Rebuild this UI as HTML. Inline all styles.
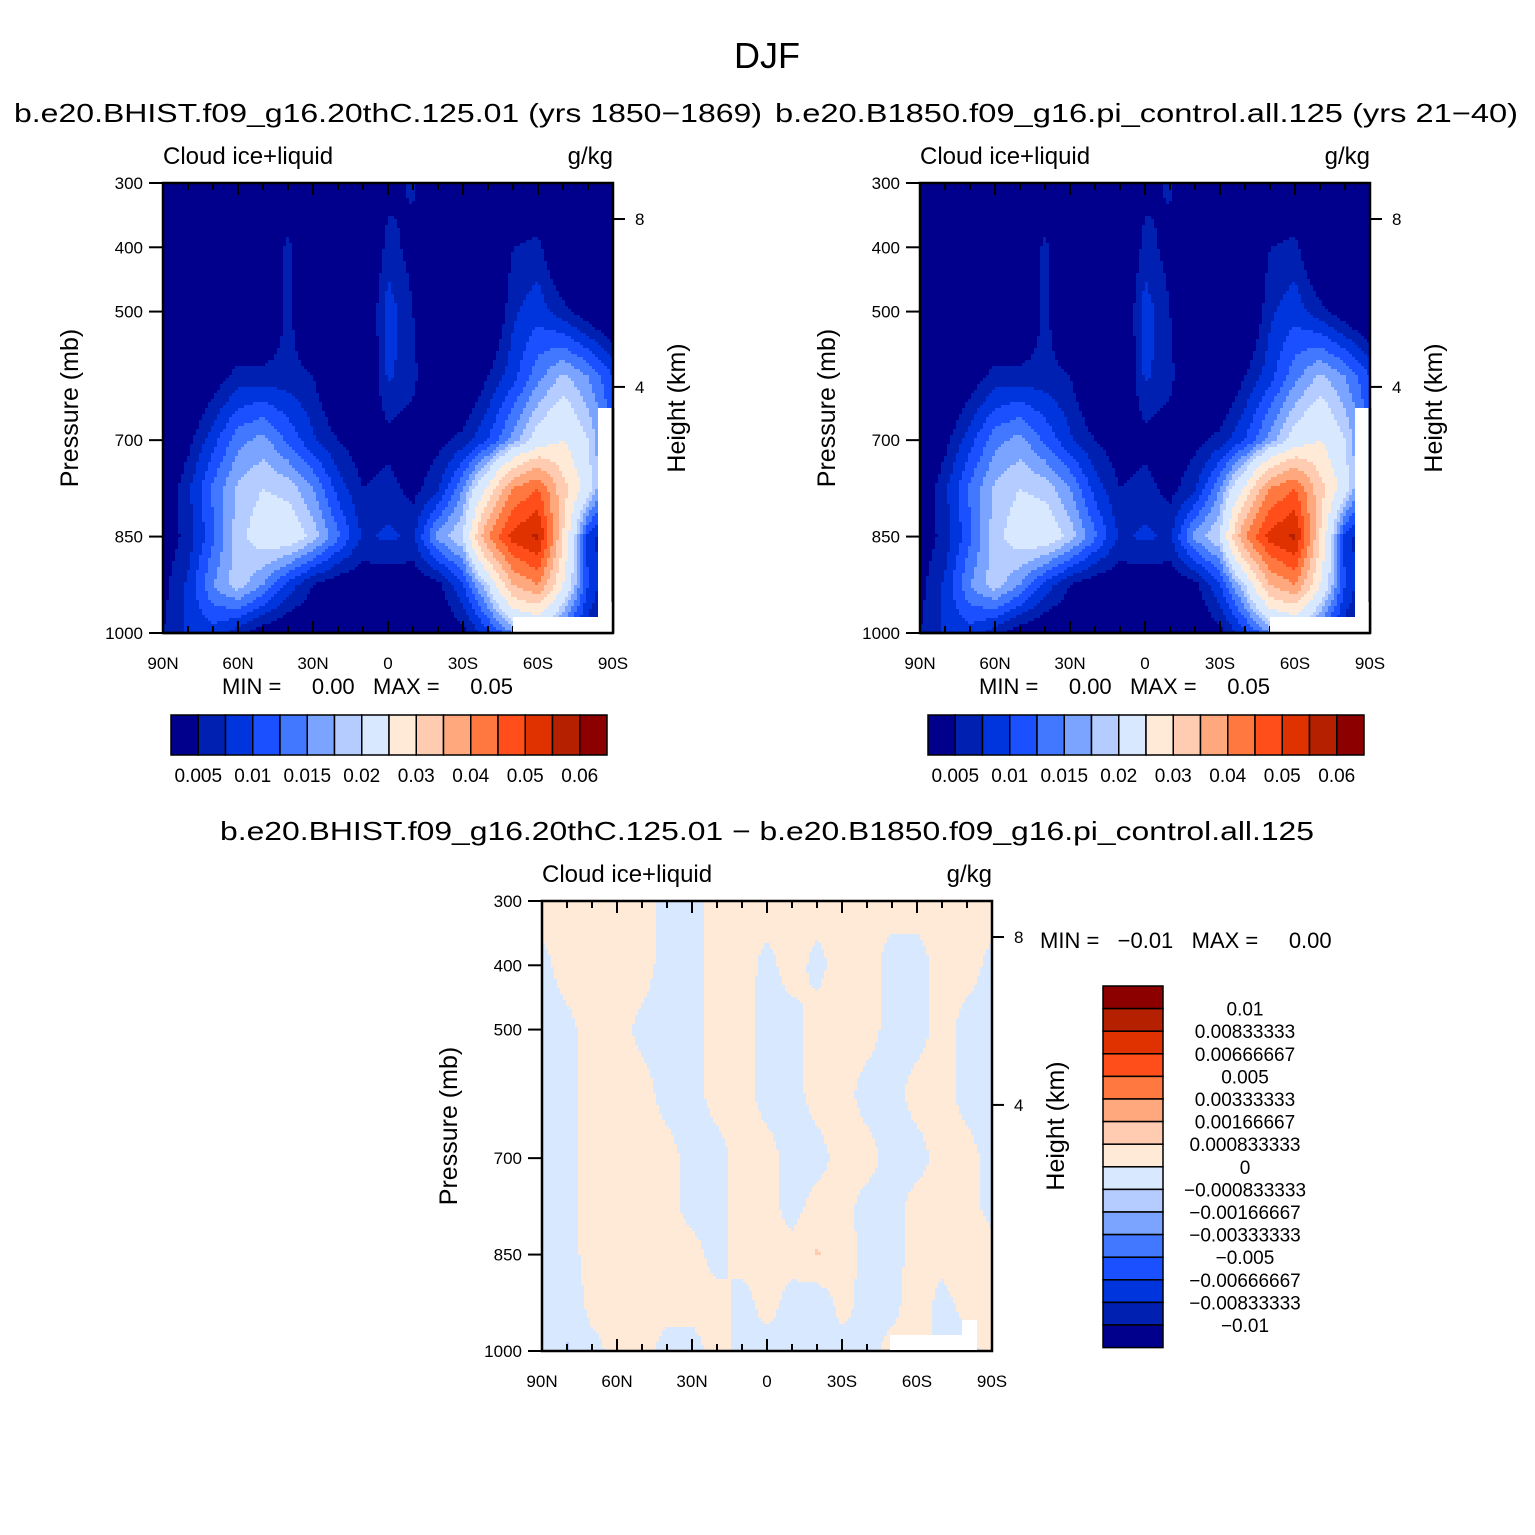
<!DOCTYPE html>
<html><head><meta charset="utf-8">
<style>
body{margin:0;background:#fff;}
svg{display:block;font-family:"Liberation Sans",sans-serif;}
</style></head>
<body>
<svg id="fig" width="1535" height="1535" viewBox="0 0 1535 1535" xmlns="http://www.w3.org/2000/svg">
<rect width="1535" height="1535" fill="#fff"/>
<text x="767" y="68" font-size="36" text-anchor="middle">DJF</text>
<text x="14" y="122" font-size="26" textLength="748" lengthAdjust="spacingAndGlyphs">b.e20.BHIST.f09_g16.20thC.125.01 (yrs 1850−1869)</text>
<text x="775" y="122" font-size="26" textLength="743" lengthAdjust="spacingAndGlyphs">b.e20.B1850.f09_g16.pi_control.all.125 (yrs 21−40)</text>
<text x="767" y="840" font-size="26" text-anchor="middle" textLength="1094" lengthAdjust="spacingAndGlyphs">b.e20.BHIST.f09_g16.20thC.125.01 − b.e20.B1850.f09_g16.pi_control.all.125</text>
<g id="p1"></g>
<g id="p2"></g>
<g id="p3"></g>
</svg>
<script>
const lats = [90,80,70,60,50,40,30,20,10,0,-10,-20,-30,-40,-50,-60,-70,-80,-90];
const plevs = [300,400,500,600,700,775,850,925,1000];
const field1 = [
[0,0,0,0,0,0,0,0,0,0.004,0.0055,0,0,0,0,0,0,0,0],
[0,0,0,0,0,0.006,0,0,0,0.006,0.004,0,0,0,0.005,0.006,0,0,0],
[0,0,0,0,0,0.006,0,0,0,0.009,0.005,0,0,0,0.007,0.009,0.006,0.003,0],
[0,0,0.003,0.006,0.006,0.006,0.005,0,0,0.008,0.006,0,0,0.005,0.009,0.014,0.018,0.015,0.01],
[0,0.004,0.009,0.014,0.016,0.012,0.008,0.005,0.003,0.004,0.003,0.004,0.006,0.01,0.016,0.022,0.025,0.02,0.012],
[0.002,0.007,0.013,0.018,0.02,0.019,0.015,0.009,0.005,0.006,0.004,0.007,0.015,0.026,0.04,0.045,0.032,0.022,0.01],
[0.003,0.006,0.012,0.019,0.022,0.023,0.019,0.013,0.007,0.008,0.007,0.016,0.02,0.04,0.052,0.056,0.03,0.009,0.004],
[0.004,0.008,0.015,0.019,0.015,0.009,0.005,0.003,0.003,0.003,0.003,0.004,0.01,0.02,0.035,0.04,0.025,0.01,0.004],
[0.005,0.008,0.009,0.006,0.003,0.002,0.002,0.002,0.002,0.002,0.002,0.002,0.004,0.009,0.015,0.016,0.012,0.006,0.003]
];
const field2 = [
[0,0,0,0,0,0,0,0,0,0.004,0.0055,0,0,0,0,0,0,0,0],
[0,0,0,0,0,0.006,0,0,0,0.006,0.004,0,0,0,0.005,0.006,0,0,0],
[0,0,0,0,0,0.006,0,0,0,0.009,0.005,0,0,0,0.007,0.009,0.006,0.003,0],
[0,0,0.003,0.006,0.006,0.006,0.005,0,0,0.008,0.006,0,0,0.005,0.009,0.014,0.018,0.015,0.01],
[0,0.004,0.009,0.014,0.016,0.012,0.008,0.005,0.003,0.004,0.003,0.004,0.006,0.01,0.016,0.022,0.025,0.02,0.012],
[0.002,0.007,0.013,0.018,0.02,0.019,0.015,0.009,0.005,0.006,0.004,0.007,0.015,0.026,0.04,0.045,0.032,0.022,0.01],
[0.003,0.006,0.012,0.019,0.022,0.023,0.019,0.013,0.007,0.008,0.007,0.016,0.02,0.04,0.052,0.056,0.03,0.009,0.004],
[0.004,0.008,0.015,0.019,0.015,0.009,0.005,0.003,0.003,0.003,0.003,0.004,0.01,0.02,0.035,0.04,0.025,0.01,0.004],
[0.005,0.008,0.009,0.006,0.003,0.002,0.002,0.002,0.002,0.002,0.002,0.002,0.004,0.009,0.015,0.016,0.012,0.006,0.003]
];
const fieldDiff = [
[0.0003,0.0003,0.0003,0.0003,0.0003,-0.0003,-0.0003,0.0003,0.0003,0.0003,0.0003,0.0003,0.0003,0.0003,0.0003,0.0003,0.0003,0.0003,0.0003],
[-0.0002,0.0003,0.0003,0.0003,0.0003,-0.0003,-0.0003,0.0003,0.0003,-0.0002,0.0003,-0.0002,0.0003,0.0003,-0.0003,-0.0003,0.0003,0.0003,-0.0002],
[-0.0003,-0.0002,0.0003,0.0003,-0.0002,-0.0003,-0.0003,0.0003,0.0003,-0.0003,-0.0003,0.0003,0.0003,0.0003,-0.0003,-0.0003,0.0003,-0.0003,-0.0003],
[-0.0003,-0.0003,0.0003,0.0003,0.0003,-0.0003,-0.0003,0.0003,0.0003,-0.0003,-0.0003,0.0003,0.0003,-0.0003,-0.0003,0.0003,0.0003,-0.0003,-0.0003],
[-0.0003,-0.0003,0.0003,0.0003,0.0003,0.0003,-0.0003,-0.0003,0.0003,0.0003,-0.0003,-0.0003,0.0003,0.0003,-0.0003,-0.0003,0.0003,0.0003,-0.0003],
[-0.0003,-0.0003,0.0003,0.0003,0.0003,0.0003,-0.0003,-0.0003,0.0003,0.0003,-0.0003,0.0003,0.0003,-0.0003,-0.0003,0.0003,0.0003,0.0003,-0.0003],
[-0.0003,-0.0003,0.0003,0.0003,0.0005,0.0004,0.0003,-0.0003,0.0003,0.0003,0.0003,0.0009,0.0004,-0.0003,-0.0003,0.0003,0.0003,0.0008,0.0003],
[-0.0003,-0.0006,0.0003,0.0004,0.0003,0.0003,0.0003,0.0003,-0.0003,0.0003,-0.0003,-0.0006,0.0003,-0.0003,-0.0003,0.0005,-0.0003,0.0003,0.0008],
[-0.0003,-0.0009,-0.0003,0.0003,0.0003,-0.0003,-0.0003,0.0003,-0.0003,-0.0003,-0.0003,-0.0003,-0.0003,-0.0003,0.0003,0.0003,-0.0003,-0.0003,0.0003]
];
const levels1 = [0.005,0.0075,0.01,0.0125,0.015,0.0175,0.02,0.025,0.03,0.035,0.04,0.045,0.05,0.055,0.06];
const levelsDiff = [-0.01,-0.00833333,-0.00666667,-0.005,-0.00333333,-0.00166667,-0.000833333,0,0.000833333,0.00166667,0.00333333,0.005,0.00666667,0.00833333,0.01];
const cbLabels1 = ["0.005","0.01","0.015","0.02","0.03","0.04","0.05","0.06"];
const cbLabelsDiff = ["0.01","0.00833333","0.00666667","0.005","0.00333333","0.00166667","0.000833333","0","−0.000833333","−0.00166667","−0.00333333","−0.005","−0.00666667","−0.00833333","−0.01"];
const xTickLabels = ["90N","60N","30N","0","30S","60S","90S"];
const xTickLats = [90,60,30,0,-30,-60,-90];
const pTicks = [300,400,500,700,850,1000];
const hTicks = [8,4];
const palette = ["#00008c","#0020b2","#0034dc","#1a50ff","#4278ff","#7aa4ff","#b4ccff","#d8e8ff","#ffead8","#ffccb2","#ffa87e","#ff7840","#ff4e1a","#e03200","#b42000","#8c0000"];
const NS="http://www.w3.org/2000/svg";
function el(tag,attrs,parent,txt){const e=document.createElementNS(NS,tag);for(const k in attrs)e.setAttribute(k,attrs[k]);if(txt!==undefined)e.textContent=txt;parent.appendChild(e);return e;}
function interp(field,lat,p){
  let i=0;while(i<lats.length-2&&lat<lats[i+1])i++;
  let j=0;while(j<plevs.length-2&&p>plevs[j+1])j++;
  const tx=(lats[i]-lat)/(lats[i]-lats[i+1]);const ty=(p-plevs[j])/(plevs[j+1]-plevs[j]);
  const a=field[j][i],b=field[j][i+1],c=field[j+1][i],d=field[j+1][i+1];
  return (a*(1-tx)+b*tx)*(1-ty)+(c*(1-tx)+d*tx)*ty;
}
function colorIdx(v,levels){let k=0;while(k<levels.length&&v>=levels[k])k++;return k;}
function panel(g,x0,y0,field,levels){
  const W=450,H=450;
  const xOf=lat=>x0+(90-lat)/180*W;
  const yOf=p=>y0+(p-300)/700*H;
  const cells=el('g',{},g);
  
  
  const st=3;
  for(let py=0;py<H;py+=st){
    const p=300+(py+st/2)/H*700;
    let runStart=0,runC=-1;
    for(let px=0;px<=W;px+=st){
      let c=-2;
      if(px<W){const lat=90-(px+st/2)/W*180;c=colorIdx(interp(field,lat,p),levels);}
      if(c!==runC){
        if(runC>=0){const r=el('rect',{x:x0+runStart,y:y0+py,width:px-runStart+0.6,height:st+0.6,fill:palette[runC]},cells);
          
          }
        runStart=px;runC=c;
      }
    }
  }
  el('rect',{x:x0,y:y0,width:W,height:H,fill:'none',stroke:'#000','stroke-width':2.5},g);
  for(let lat=90;lat>=-90;lat-=10){
    const x=xOf(lat);const major=lat%30===0;const L=major?12:7;
    el('line',{x1:x,y1:y0+H,x2:x,y2:y0+H-L,stroke:'#000','stroke-width':2},g);
    el('line',{x1:x,y1:y0,x2:x,y2:y0+L,stroke:'#000','stroke-width':2},g);
  }
  xTickLats.forEach((lat,i)=>{const t=el('text',{x:xOf(lat),y:y0+H+36,'font-size':17,'text-anchor':'middle'},g,xTickLabels[i]);
    });
  pTicks.forEach(p=>{const y=yOf(p);el('line',{x1:x0-14,y1:y,x2:x0,y2:y,stroke:'#000','stroke-width':2},g);
    const t=el('text',{x:x0-20,y:y+6,'font-size':17,'text-anchor':'end'},g,String(p));
    });
  hTicks.forEach(h=>{const p=1070*Math.exp(-h/7.27);const y=yOf(p);
    el('line',{x1:x0+W,y1:y,x2:x0+W+12,y2:y,stroke:'#000','stroke-width':2},g);
    const t=el('text',{x:x0+W+22,y:y+6,'font-size':17},g,String(h));
    });
  let t=el('text',{x:x0,y:y0-19,'font-size':24},g,'Cloud ice+liquid');
  t=el('text',{x:x0+W,y:y0-19,'font-size':24,'text-anchor':'end'},g,'g/kg');
  t=el('text',{x:0,y:0,'font-size':25,'text-anchor':'middle',transform:`translate(${x0-85},${y0+225}) rotate(-90)`},g,'Pressure (mb)');
  t=el('text',{x:0,y:0,'font-size':25,'text-anchor':'middle',transform:`translate(${x0+W+72},${y0+225}) rotate(-90)`},g,'Height (km)');
}
function hbar(g,x0,y0){
  const bw=27.25,bh=40;
  palette.forEach((c,i)=>{const r=el('rect',{x:x0+i*bw,y:y0,width:bw,height:bh,fill:c,stroke:'#000','stroke-width':1.5},g);
    });
  cbLabels1.forEach((s,i)=>{const t=el('text',{x:x0+(1+2*i)*bw,y:y0+67,'font-size':19,'text-anchor':'middle'},g,s);
    });
}
const p1=document.getElementById('p1'),p2=document.getElementById('p2'),p3=document.getElementById('p3');
panel(p1,163,183,field1,levels1);
panel(p2,920,183,field2,levels1);
panel(p3,542,901,fieldDiff,levelsDiff);
[[p1,163],[p2,920]].forEach(([g,x0])=>{
  el('rect',{x:x0+435,y:408,width:13.5,height:224,fill:'#fff'},g);
  el('rect',{x:x0+350,y:617,width:86,height:15,fill:'#fff'},g);
  el('rect',{x:x0+437,y:602,width:12,height:30,fill:'#fff'},g);
});
el('rect',{x:890,y:1335,width:72,height:15,fill:'#fff'},p3);
el('rect',{x:962,y:1320,width:15,height:30,fill:'#fff'},p3);
[[p1,163],[p2,920]].forEach(([g,x0])=>{
  el('line',{x1:x0+450,y1:408,x2:x0+450,y2:633,stroke:'#000','stroke-width':2.5},g);
  el('line',{x1:x0,y1:633,x2:x0+450,y2:633,stroke:'#000','stroke-width':2.5},g);
});
[[p1,163],[p2,920]].forEach(([g,x0])=>{
  const t=el('text',{x:x0+59,y:694,'font-size':22},g,'MIN =     0.00   MAX =     0.05');
  t.style.whiteSpace='pre';
  
  hbar(g,x0+8,715);
});
let mm=el('text',{x:1040,y:948,'font-size':22},p3,'MIN =   −0.01   MAX =     0.00');mm.style.whiteSpace='pre';

const vb=22.6;
palette.slice().reverse().forEach((c,i)=>{const r=el('rect',{x:1103,y:986+i*vb,width:60,height:vb,fill:c,stroke:'#000','stroke-width':1.5},p3);
  });
cbLabelsDiff.forEach((s,i)=>{const t=el('text',{x:1245,y:986+(i+1)*vb+7,'font-size':19,'text-anchor':'middle'},p3,s);
  });
</script>
</body></html>
